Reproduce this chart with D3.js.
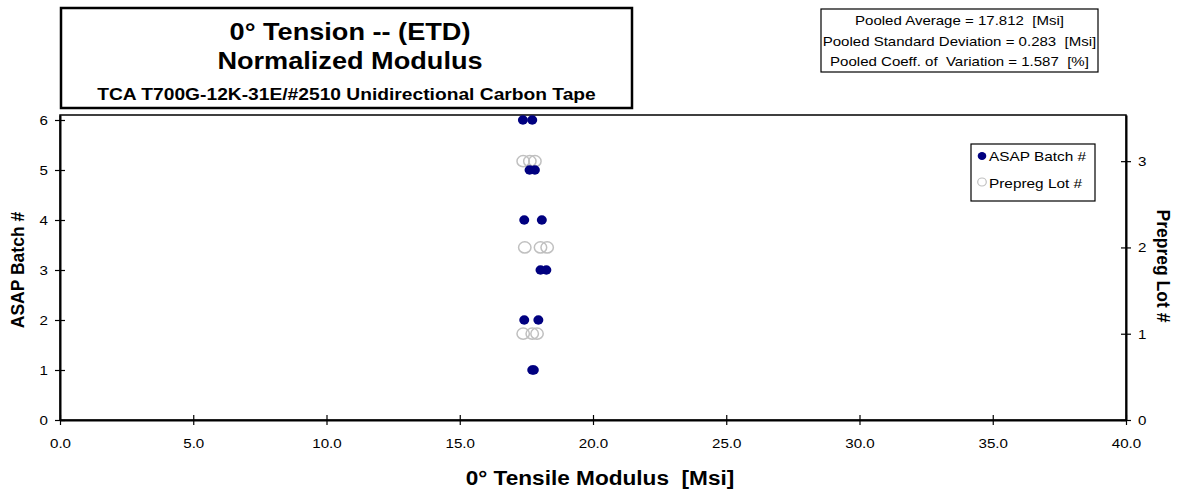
<!DOCTYPE html>
<html>
<head>
<meta charset="utf-8">
<script src="https://cdn.jsdelivr.net/npm/d3@7"></script>
<style>
body { margin: 0; background: #fff; }
text { font-family: "Liberation Sans", Arial, sans-serif; white-space: pre; }
</style>
</head>
<body>
<svg id="chart"></svg>
<script>
var width = 1188;
var height = 490;

// ASAP batch points (modulus, batch #)
var batchModulus = [17.37, 17.72, 17.62, 17.82, 17.42, 18.08, 18.03, 18.25, 17.42, 17.95, 17.72, 17.78];
var batchNum     = [6, 6, 5, 5, 4, 4, 3, 3, 2, 2, 1, 1];
// Prepreg lot points (modulus, lot #)
var lotModulus = [17.38, 17.63, 17.82, 17.44, 18.03, 18.28, 17.38, 17.72, 17.9];
var lotNum     = [3, 3, 3, 2, 2, 2, 1, 1, 1];

var xTicks = [0, 5, 10, 15, 20, 25, 30, 35, 40];
var yTicks = [0, 1, 2, 3, 4, 5, 6];
var y2Ticks = [0, 1, 2, 3];

var titleLines = ["0° Tension -- (ETD)", "Normalized Modulus"];
var subTitle = "TCA T700G-12K-31E/#2510 Unidirectional Carbon Tape";
var statsLines = ["Pooled Average = 17.812  [Msi]",
                  "Pooled Standard Deviation = 0.283  [Msi]",
                  "Pooled Coeff. of  Variation = 1.587  [%]"];

var plotL = 60, plotR = 1126, plotT = 115, plotB = 420;
var wide = 1.13; // the original text is drawn a bit wider than normal

var svg = d3.select("#chart").attr("width", width).attr("height", height);

function stretch(sel) {
    sel.each(function() {
        var w = this.getComputedTextLength();
        d3.select(this).attr("textLength", w * wide).attr("lengthAdjust", "spacingAndGlyphs");
    });
}

var xScale = d3.scaleLinear().domain([0, 40]).range([plotL, plotR]);
var yScale = d3.scaleLinear().domain([0, 6.1]).range([plotB, plotT]);
var y2Scale = d3.scaleLinear().domain([0, 3.535]).range([plotB, plotT]);

// plot frame
svg.append("rect")
    .attr("x", plotL).attr("y", plotT)
    .attr("width", plotR - plotL).attr("height", plotB - plotT)
    .attr("fill", "none").attr("stroke", "#000").attr("stroke-width", 1.5);

function crossTicks(g) {
    g.select(".domain").attr("stroke-width", 2);
    g.selectAll(".tick line").attr("stroke-width", 1.2);
    g.selectAll(".tick text").attr("font-size", 13.4).attr("fill", "#000");
}

var xAxis = d3.axisBottom(xScale).tickValues(xTicks).tickFormat(d3.format(".1f"))
    .tickSizeInner(4).tickSizeOuter(0).tickPadding(14);
var gx = svg.append("g").attr("transform", `translate(0,${plotB})`).call(xAxis).call(crossTicks);
gx.selectAll(".tick line").attr("y1", -5).attr("y2", 5);
gx.selectAll(".tick text").call(stretch);

var yAxis = d3.axisLeft(yScale).tickValues(yTicks).tickFormat(d3.format("d"))
    .tickSizeInner(4).tickSizeOuter(0).tickPadding(8);
var gy = svg.append("g").attr("transform", `translate(${plotL},0)`).call(yAxis).call(crossTicks);
gy.selectAll(".tick line").attr("x1", -5).attr("x2", 5);
gy.selectAll(".tick text").call(stretch);

var y2Axis = d3.axisRight(y2Scale).tickValues(y2Ticks).tickFormat(d3.format("d"))
    .tickSizeInner(4).tickSizeOuter(0).tickPadding(8);
var gy2 = svg.append("g").attr("transform", `translate(${plotR},0)`).call(y2Axis).call(crossTicks);
gy2.selectAll(".tick line").attr("x1", -5).attr("x2", 5);
gy2.selectAll(".tick text").call(stretch);

// prepreg lot markers (hollow)
svg.append("g").selectAll("ellipse")
    .data(lotModulus)
    .enter().append("ellipse")
    .attr("cx", d => xScale(d))
    .attr("cy", (d, i) => y2Scale(lotNum[i]))
    .attr("rx", 6.2).attr("ry", 5.6)
    .attr("fill", "none")
    .attr("stroke", "#c0c0c0")
    .attr("stroke-width", 1.5);

// ASAP batch markers (filled)
svg.append("g").selectAll("ellipse")
    .data(batchModulus)
    .enter().append("ellipse")
    .attr("cx", d => xScale(d))
    .attr("cy", (d, i) => yScale(batchNum[i]))
    .attr("rx", 5).attr("ry", 4.7)
    .attr("fill", "#000080");

// title box
svg.append("rect")
    .attr("x", 61).attr("y", 8).attr("width", 571).attr("height", 100)
    .attr("fill", "#fff").attr("stroke", "#000").attr("stroke-width", 2.5);
svg.append("g").selectAll("text")
    .data(titleLines)
    .enter().append("text")
    .attr("x", 350)
    .attr("y", (d, i) => 40 + i * 29)
    .attr("text-anchor", "middle")
    .attr("font-size", 24).attr("font-weight", "bold")
    .text(d => d)
    .call(stretch);
svg.append("text")
    .attr("x", 346.5).attr("y", 100)
    .attr("text-anchor", "middle")
    .attr("font-size", 17).attr("font-weight", "bold")
    .text(subTitle)
    .call(stretch);

// stats box
svg.append("rect")
    .attr("x", 821).attr("y", 9).attr("width", 277).attr("height", 63)
    .attr("fill", "#fff").attr("stroke", "#000").attr("stroke-width", 1.2);
svg.append("g").selectAll("text")
    .data(statsLines)
    .enter().append("text")
    .attr("x", 959.5)
    .attr("y", (d, i) => 25 + i * 20.5)
    .attr("text-anchor", "middle")
    .attr("font-size", 13.3)
    .text(d => d)
    .call(stretch);

// legend
var legend = svg.append("g");
legend.append("rect")
    .attr("x", 971).attr("y", 144).attr("width", 124).attr("height", 57)
    .attr("fill", "#fff").attr("stroke", "#000").attr("stroke-width", 1.2);
legend.append("ellipse").attr("cx", 982).attr("cy", 156).attr("rx", 4.3).attr("ry", 4).attr("fill", "#000080");
legend.append("ellipse").attr("cx", 982).attr("cy", 182).attr("rx", 4.3).attr("ry", 4)
    .attr("fill", "none").attr("stroke", "#c0c0c0").attr("stroke-width", 1.2);
legend.append("text").attr("x", 989).attr("y", 161).attr("font-size", 13.6).text("ASAP Batch #").call(stretch);
legend.append("text").attr("x", 989).attr("y", 188).attr("font-size", 13.6).text("Prepreg Lot #").call(stretch);

// axis titles
svg.append("text")
    .attr("x", 600).attr("y", 485)
    .attr("text-anchor", "middle")
    .attr("font-size", 20).attr("font-weight", "bold")
    .text("0° Tensile Modulus  [Msi]")
    .call(stretch);
svg.append("text")
    .attr("transform", `translate(24,270) rotate(-90)`)
    .attr("text-anchor", "middle")
    .attr("font-size", 17.5).attr("font-weight", "bold")
    .text("ASAP Batch #");
svg.append("text")
    .attr("transform", `translate(1157,266) rotate(90)`)
    .attr("text-anchor", "middle")
    .attr("font-size", 17.5).attr("font-weight", "bold")
    .text("Prepreg Lot #");
</script>
</body>
</html>
